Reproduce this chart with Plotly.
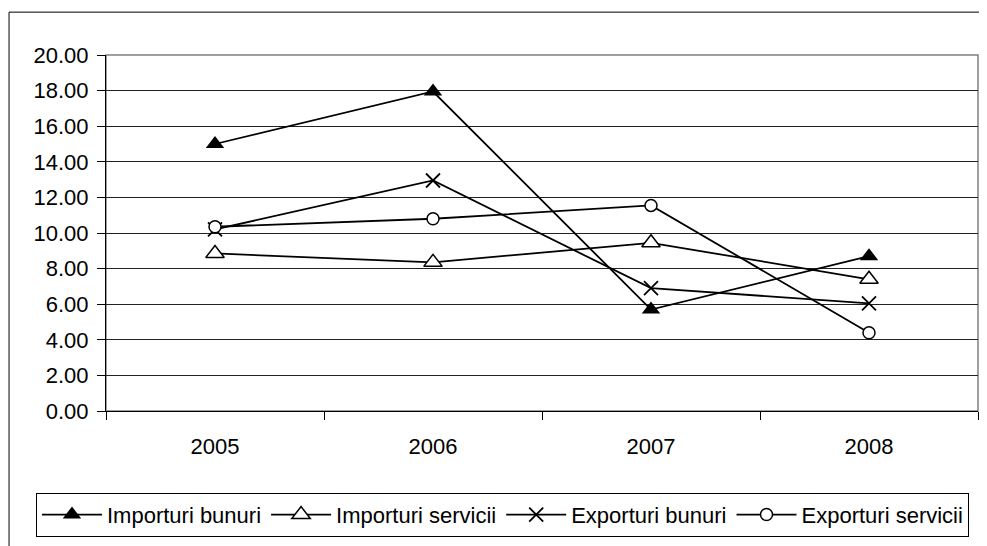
import plotly.graph_objects as go

# Years on the category axis
years = ['2005', '2006', '2007', '2008']

# Growth values per series
importuri_bunuri = [15.0, 17.95, 5.7, 8.7]
importuri_servicii = [8.85, 8.35, 9.45, 7.4]
exporturi_bunuri = [10.2, 12.95, 6.9, 6.05]
exporturi_servicii = [10.35, 10.8, 11.55, 4.4]

y_ticks = [0, 2, 4, 6, 8, 10, 12, 14, 16, 18, 20]

FONT = 'Liberation Sans, Arial, sans-serif'

series = [
    ('Importuri bunuri', importuri_bunuri, dict(symbol='triangle-up', size=16, color='black')),
    ('Importuri servicii', importuri_servicii, dict(symbol='triangle-up', size=16, color='white',
                                                    line=dict(color='black', width=1.5))),
    ('Exporturi bunuri', exporturi_bunuri, dict(symbol='x-thin-open', size=14, color='black',
                                                line=dict(color='black', width=1.8))),
    ('Exporturi servicii', exporturi_servicii, dict(symbol='circle', size=12, color='white',
                                                    line=dict(color='black', width=1.5))),
]

fig = go.Figure()
for name, vals, marker in series:
    fig.add_trace(go.Scatter(
        x=years, y=vals, name=name, mode='lines+markers',
        line=dict(color='black', width=1.8),
        marker=marker,
    ))

# the page body has an 8px margin, so the figure is a little smaller than the window
fig.update_layout(
    width=979, height=538,
    margin=dict(l=98, r=9, t=47, b=126),
    paper_bgcolor='white',
    plot_bgcolor='white',
    font=dict(family=FONT, size=22, color='black'),
    showlegend=True,
    legend=dict(
        orientation='h',
        x=-0.0803, xanchor='left',
        y=-0.2297, yanchor='top',
        bordercolor='black', borderwidth=1,
        itemwidth=60,
        font=dict(family=FONT, size=22, color='black'),
        traceorder='normal',
    ),
)

fig.update_xaxes(
    type='category',
    range=[-0.5, 3.5],
    tickson='boundaries',
    ticks='outside', ticklen=8, tickcolor='black',
    showline=True, linecolor='black', linewidth=1,
    showgrid=False,
    ticklabelstandoff=16,
)

fig.update_yaxes(
    range=[0, 20],
    tickvals=y_ticks,
    tickformat='.2f',
    ticks='outside', ticklen=8, tickcolor='black',
    showline=True, linecolor='black', linewidth=1,
    showgrid=True, gridcolor='#222', gridwidth=1,
    zeroline=False,
    ticklabelstandoff=4,
)

# plot-area border (grey) and outer chart frame (black)
fig.add_shape(type='rect', xref='paper', yref='paper', x0=0, x1=1, y0=0, y1=1,
              line=dict(color='#808080', width=1.5), layer='below')
fig.add_shape(type='rect', xref='paper', yref='paper', x0=-0.1112, x1=1.02, y0=-0.39, y1=1.1204,
              line=dict(color='black', width=1))

fig.write_html('out.html')
